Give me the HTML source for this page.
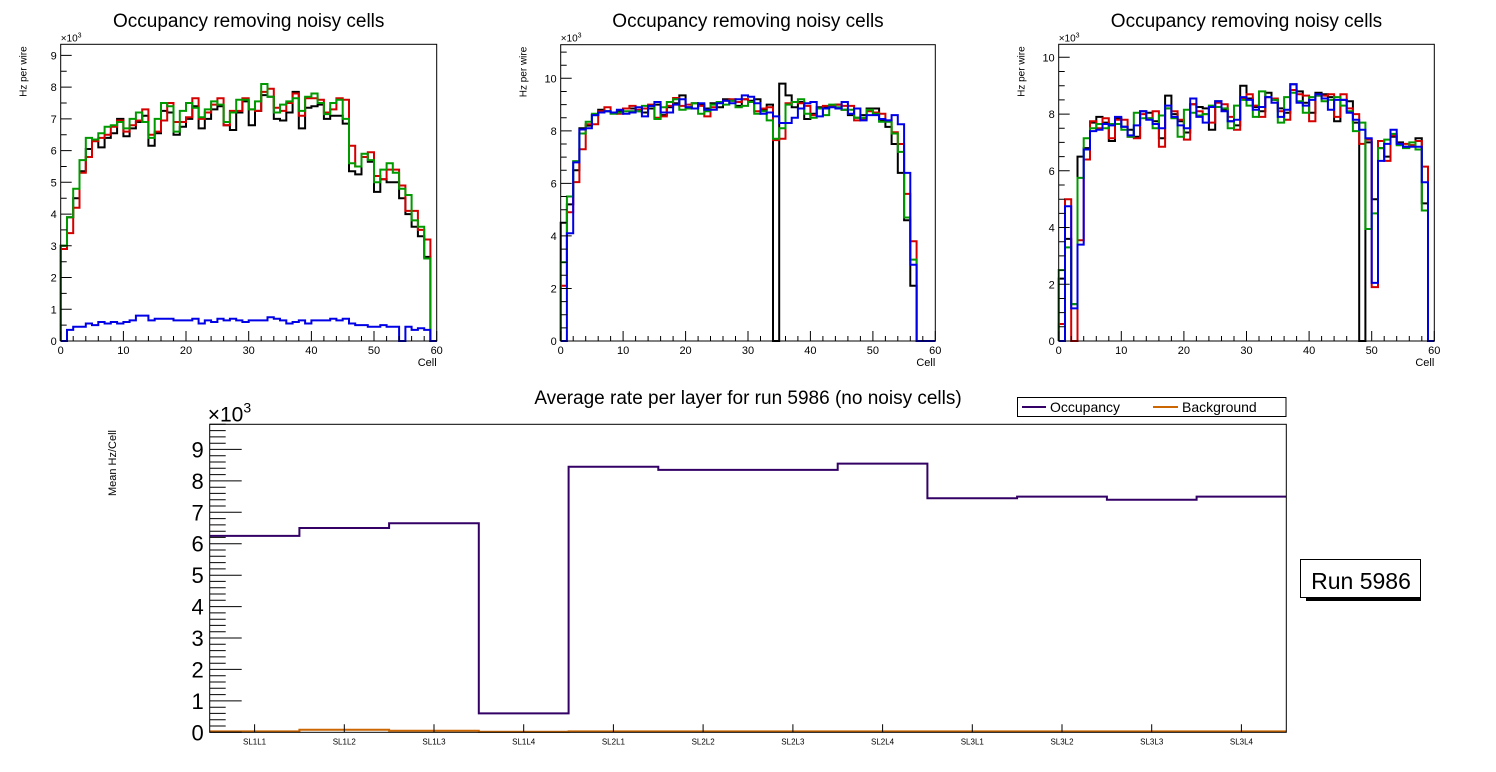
<!DOCTYPE html>
<html><head><meta charset="utf-8"><style>
body{margin:0;background:#fff;}
svg{display:block;font-family:"Liberation Sans",sans-serif;}
</style></head><body>
<svg id="c" width="1496" height="772" viewBox="0 0 1496 772"></svg>
<script>
// ---- data: top panels (kHz per wire, 60 cells) ----
const p1Black=[3.0,3.9,4.5,5.35,6.05,6.3,6.1,6.4,6.55,7.0,6.45,6.7,6.9,7.1,6.15,6.55,7.25,7.2,6.5,6.75,7.0,7.4,6.7,7.0,7.3,7.4,6.8,6.65,7.2,7.55,6.8,7.25,7.75,7.7,7.0,6.95,7.2,7.85,6.7,7.35,7.4,7.45,7.0,7.1,7.1,6.85,5.35,5.25,5.8,5.65,4.7,5.1,5.0,5.0,4.5,4.0,3.6,3.3,2.65,0];
const p1Red=[2.9,3.4,4.2,5.3,5.8,6.3,6.4,6.5,6.75,6.95,6.6,6.8,6.95,7.3,6.5,6.6,6.95,7.5,6.9,6.9,7.05,7.65,7.0,7.2,7.45,7.65,6.8,7.25,7.25,7.65,7.3,7.25,7.85,7.95,7.35,7.25,7.5,7.8,7.1,7.65,7.65,7.6,7.2,7.3,7.65,7.6,6.15,5.5,5.8,5.95,5.2,5.1,5.4,5.4,4.9,4.1,4.1,3.5,3.2,0];
const p1Green=[3.0,3.9,4.8,5.7,6.4,6.35,6.55,6.75,6.8,6.9,6.7,7.0,7.2,6.9,6.4,7.0,7.5,7.4,6.6,7.25,7.5,7.35,7.05,7.3,7.55,7.45,6.9,7.2,7.6,7.6,7.3,7.55,8.1,7.7,7.2,7.45,7.55,7.65,7.25,7.7,7.8,7.5,7.15,7.5,7.6,7.0,5.6,5.5,5.9,5.7,5.0,5.4,5.6,5.3,4.8,4.6,3.8,3.6,2.6,0];
const p1Blue=[0,0.35,0.45,0.45,0.55,0.5,0.6,0.55,0.6,0.55,0.6,0.65,0.8,0.8,0.65,0.7,0.7,0.7,0.65,0.65,0.65,0.7,0.55,0.65,0.6,0.7,0.65,0.7,0.65,0.6,0.65,0.65,0.65,0.75,0.7,0.65,0.55,0.6,0.65,0.55,0.65,0.65,0.65,0.7,0.65,0.7,0.55,0.5,0.5,0.45,0.45,0.5,0.45,0.45,0,0.45,0.35,0.4,0.35,0];
const p2Black=[4.5,5.2,6.5,8.1,8.2,8.6,8.8,8.75,8.7,8.75,8.85,8.85,8.75,8.7,8.85,9.0,8.6,8.9,9.05,9.35,8.9,9.05,9.0,8.85,9.05,8.9,9.2,9.15,8.95,9.2,9.15,9.2,8.8,9.0,0,9.8,9.35,8.9,9.1,8.45,8.65,8.9,8.9,8.95,9.0,8.8,8.6,8.5,8.6,8.85,8.85,8.4,8.15,7.5,6.4,4.6,2.1,0,0,0];
const p2Red=[2.1,4.9,6.05,7.3,8.25,8.25,8.75,8.9,8.7,8.65,8.85,8.95,8.8,8.85,9.0,8.5,8.55,8.95,9.25,8.95,9.0,8.85,8.95,8.55,8.9,9.1,9.15,9.2,9.1,9.2,9.1,8.75,8.85,8.9,7.65,7.7,9.05,9.1,9.05,8.95,8.6,8.85,8.95,8.95,9.0,8.95,8.95,8.4,8.45,8.75,8.7,8.65,8.4,7.95,7.5,5.6,3.8,0,0,0];
const p2Green=[3.0,5.5,6.85,7.9,8.35,8.65,8.7,8.75,8.65,8.7,8.75,8.75,8.75,8.95,8.95,8.45,8.9,9.1,9.2,8.8,8.85,9.05,8.65,8.75,9.0,9.1,9.0,9.15,8.9,8.95,9.1,8.65,8.75,8.4,7.7,8.1,9.0,9.1,9.2,8.65,8.5,8.85,8.6,9.0,8.9,8.8,8.8,8.5,8.5,8.8,8.65,8.35,8.35,7.9,7.2,4.7,3.1,0,0,0];
const p2Blue=[0,4.1,6.8,8.05,8.1,8.6,8.7,8.75,8.7,8.8,8.65,8.7,8.9,8.55,8.95,9.1,8.7,8.7,9.0,9.2,8.9,8.85,9.05,8.8,8.8,9.05,9.15,9.05,9.2,9.35,9.3,9.05,8.65,8.7,8.55,8.3,8.3,8.5,8.85,9.05,9.1,8.55,8.85,8.9,8.85,9.1,8.65,8.85,8.4,8.6,8.6,8.45,8.4,8.6,8.25,6.4,2.9,0,0,0];
const p3Black=[2.2,3.6,1.3,6.5,6.8,7.7,7.9,7.7,7.05,7.85,7.55,7.45,7.2,8.1,8.05,7.75,7.15,8.65,8.0,7.75,7.35,8.35,8.25,8.2,7.45,8.45,8.15,7.75,7.6,9.0,8.55,8.25,8.1,8.75,8.5,8.2,8.05,9.05,8.8,8.4,8.05,8.75,8.7,8.6,7.75,8.5,8.45,7.7,0,7.0,5.0,6.8,6.5,7.2,7.0,6.85,6.9,7.15,4.85,0];
const p3Red=[0.6,5.0,0,3.55,6.4,7.75,7.5,7.85,7.15,7.8,7.8,7.2,7.15,8.0,7.85,8.1,6.85,8.2,8.1,7.8,7.1,8.35,8.1,8.0,7.7,8.4,8.35,7.9,7.45,8.55,8.7,8.3,7.9,8.6,8.55,8.1,7.8,8.85,8.7,8.65,7.75,8.65,8.65,8.7,7.9,8.7,8.2,8.0,6.95,7.1,1.9,7.05,6.35,7.25,6.95,6.95,6.9,7.05,6.15,0];
const p3Green=[2.5,3.3,1.3,5.75,7.15,7.5,7.65,7.5,7.65,7.65,7.45,7.2,8.05,7.85,7.85,7.5,7.95,8.2,7.85,7.2,8.15,8.05,7.95,8.0,8.3,8.25,8.2,7.5,8.3,8.5,8.3,7.9,8.8,8.6,8.5,7.7,8.6,8.75,8.45,8.05,8.6,8.65,8.45,8.5,8.6,8.3,8.1,7.4,7.7,3.95,4.5,6.8,7.1,7.3,6.9,6.8,7.0,6.75,4.6,0];
const p3Blue=[0,4.75,1.15,3.4,6.75,7.4,7.45,7.65,7.6,7.9,7.55,7.25,7.6,8.1,7.8,7.65,7.5,8.3,7.9,7.6,7.5,8.55,7.9,7.7,8.25,8.45,8.1,7.75,7.8,8.6,8.5,8.15,8.25,8.6,8.4,7.9,8.15,9.05,8.4,8.3,8.5,8.7,8.55,8.15,8.5,8.5,8.05,7.8,7.45,7.15,2.05,6.35,6.95,7.45,6.95,6.85,6.85,6.85,5.6,0];
// ---- data: bottom chart ----
const layers=["SL1L1","SL1L2","SL1L3","SL1L4","SL2L1","SL2L2","SL2L3","SL2L4","SL3L1","SL3L2","SL3L3","SL3L4"];
const occupancy=[6.25,6.5,6.65,0.6,8.45,8.35,8.35,8.55,7.45,7.5,7.4,7.5];
const background=[0.03,0.08,0.05,0.02,0.03,0.03,0.03,0.03,0.03,0.03,0.03,0.03];
const p1Ticks=[0,1,2,3,4,5,6,7,8,9];
const p23Ticks=[0,2,4,6,8,10];
const xTicks=[0,10,20,30,40,50,60];
const bottomTicks=[0,1,2,3,4,5,6,7,8,9];

const svg=document.getElementById('c');
const NS='http://www.w3.org/2000/svg';
function mk(tag,attrs,parent){const e=document.createElementNS(NS,tag);for(const k in attrs)e.setAttribute(k,attrs[k]);(parent||svg).appendChild(e);return e;}

function drawPanel(idx,L,R,T,B,ymax,ticks,minorStep,series,colors){
  const g=mk('g',{});
  
  
  const sx=v=>L+(R-L)*v/60, sy=v=>B-(B-T)*v/ymax;
  const title=mk('text',{x:(L+R)/2,y:27,'text-anchor':'middle','font-size':19},g);
  title.textContent='Occupancy removing noisy cells';
  
  
  series.forEach((s,si)=>{
    let d='M'+sx(0)+','+sy(0);
    s.forEach((v,i)=>{d+=' V'+sy(v).toFixed(1)+' H'+sx(i+1).toFixed(1);});
    d+=' V'+sy(0);
    const p=mk('path',{d:d,fill:'none',stroke:colors[si],'stroke-width':2},g);
    
    
  });
  const fr=mk('rect',{x:L,y:T,width:R-L,height:B-T,fill:'none',stroke:'#000','stroke-width':1},g);
  
  
  let td='';
  for(let v=0;v<=ymax+1e-9;v+=minorStep){td+='M'+L+','+sy(v).toFixed(1)+' h6';}
  ticks.forEach(v=>{td+='M'+L+','+sy(v).toFixed(1)+' h11';});
  for(let v=0;v<=60;v+=2){td+='M'+sx(v).toFixed(1)+','+B+' v-5';}
  xTicks.forEach(v=>{td+='M'+sx(v).toFixed(1)+','+B+' v-10';});
  const tk=mk('path',{d:td,stroke:'#000','stroke-width':1,fill:'none'},g);
  
  
  ticks.forEach(v=>{const t=mk('text',{x:L-4,y:sy(v)+4,'text-anchor':'end','font-size':11},g);t.textContent=v;
    
    });
  xTicks.forEach(v=>{const t=mk('text',{x:sx(v),y:B+13,'text-anchor':'middle','font-size':11},g);t.textContent=v;
    
    });
  const ex=mk('text',{x:L,y:T-3,'font-size':10},g);ex.innerHTML='×10<tspan dy="-4" font-size="7">3</tspan>';
  
  
  const xt=mk('text',{x:R,y:B+25,'text-anchor':'end','font-size':11},g);xt.textContent='Cell';
  
  
  const yt=mk('text',{transform:'translate('+(L-34)+','+(T+2)+') rotate(-90)','text-anchor':'end','font-size':10},g);yt.textContent='Hz per wire';
  
  
}
const cols=['#000','#d40000','#009900','#0000e6'];
drawPanel(1,60.7,436.7,44.3,341,9.35,p1Ticks,0.5,[p1Black,p1Red,p1Green,p1Blue],cols);
drawPanel(2,560.7,935.3,44.7,341,11.28,p23Ticks,0.5,[p2Black,p2Red,p2Green,p2Blue],cols);
drawPanel(3,1058.7,1434.3,44.3,341,10.46,p23Ticks,0.5,[p3Black,p3Red,p3Green,p3Blue],cols);

// ---- bottom chart ----
(function(){
  const L=209.7,R=1286.3,T=424.3,B=732.3,ymax=9.8,n=layers.length;
  const sx=i=>L+(R-L)*i/n, sy=v=>B-(B-T)*v/ymax;
  const g=mk('g',{});
  
  
  const title=mk('text',{x:748,y:404,'text-anchor':'middle','font-size':19},g);
  title.textContent='Average rate per layer for run 5986 (no noisy cells)';
  
  
  [[occupancy,'#330066','occupancy-line'],[background,'#cc6600','background-line']].forEach(([s,c,nm])=>{
    let d='M'+sx(0)+','+sy(s[0]).toFixed(1);
    s.forEach((v,i)=>{d+=' V'+sy(v).toFixed(1)+' H'+sx(i+1).toFixed(1);});
    const p=mk('path',{d:d,fill:'none',stroke:c,'stroke-width':2},g);
    
    
  });
  const fr=mk('rect',{x:L,y:T,width:R-L,height:B-T,fill:'none',stroke:'#000','stroke-width':1},g);
  
  
  let td='';
  for(let v=0;v<=ymax+1e-9;v+=0.2){td+='M'+L+','+sy(v).toFixed(1)+' h16';}
  bottomTicks.forEach(v=>{td+='M'+L+','+sy(v).toFixed(1)+' h32';});
  layers.forEach((_,i)=>{td+='M'+sx(i+0.5).toFixed(1)+','+B+' v-8';});
  const tk=mk('path',{d:td,stroke:'#000','stroke-width':1,fill:'none'},g);
  
  
  bottomTicks.forEach(v=>{const t=mk('text',{x:L-6,y:sy(v)+8,'text-anchor':'end','font-size':22},g);t.textContent=v;
    
    });
  layers.forEach((s,i)=>{const t=mk('text',{x:sx(i+0.5),y:B+12,'text-anchor':'middle','font-size':8},g);t.textContent=s;
    
    });
  const ex=mk('text',{x:L-2,y:T-3,'font-size':21},g);ex.innerHTML='×10<tspan dy="-9" font-size="14">3</tspan>';
  
  
  const yt=mk('text',{transform:'translate(116,463) rotate(-90)','text-anchor':'middle','font-size':11},g);yt.textContent='Mean Hz/Cell';
  
  
  // legend
  const lg=mk('g',{},g);
  
  
  mk('rect',{x:1017.5,y:397.5,width:268.5,height:19,fill:'#fff',stroke:'#000','stroke-width':1},lg);
  mk('line',{x1:1022,y1:407,x2:1046,y2:407,stroke:'#330066','stroke-width':2},lg);
  const t1=mk('text',{x:1050,y:412,'font-size':14},lg);t1.textContent='Occupancy';
  
  
  mk('line',{x1:1153,y1:407,x2:1178,y2:407,stroke:'#cc6600','stroke-width':2},lg);
  const t2=mk('text',{x:1182,y:412,'font-size':14},lg);t2.textContent='Background';
  
  
  // run box
  const rb=mk('g',{},g);
  
  
  mk('rect',{x:1306,y:562,width:115,height:39,fill:'#000'},rb);
  mk('rect',{x:1300.5,y:559.5,width:120,height:38,fill:'#fff',stroke:'#000','stroke-width':1},rb);
  const rt=mk('text',{x:1361,y:589,'text-anchor':'middle','font-size':23},rb);rt.textContent='Run 5986';
  
  
})();
</script>
</body></html>
